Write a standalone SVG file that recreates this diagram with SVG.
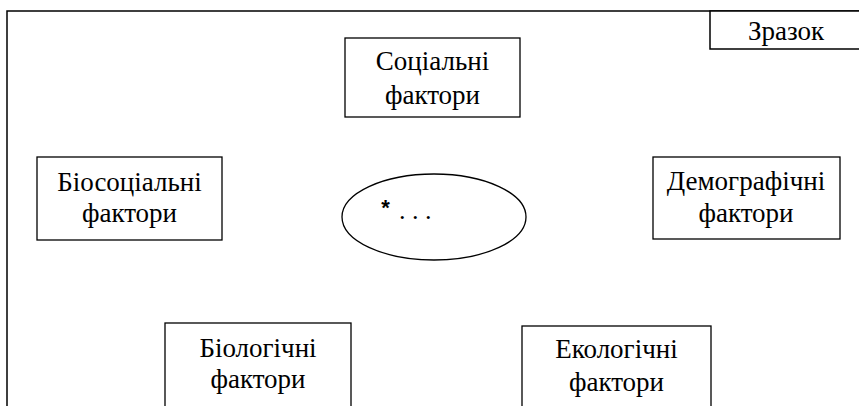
<svg xmlns="http://www.w3.org/2000/svg" width="859" height="406" viewBox="0 0 859 406">
<style>
.b{fill:#fff;stroke:#000;stroke-width:1.3}
.t{font-size:27px;fill:#000;text-anchor:middle}
</style>
<rect width="859" height="406" fill="#fff"/>
<g id="frame" fill="none" stroke="#000" stroke-width="1.5">
<polyline points="7,406 7,11 859,11"/>
</g>
<g font-family="Times New Roman, Liberation Serif, DejaVu Serif, serif">
<g id="sample">
<polyline points="859,11 710,11 710,49 859,49" fill="#fff" stroke="#000" stroke-width="1.5"/>
<text class="t" x="786" y="40">Зразок</text>
</g>
<g id="connectors"></g>
<g id="social">
<rect class="b" x="345" y="38" width="175" height="79"/>
<text class="t" x="432.5" y="70">Соціальні</text>
<text class="t" x="432.5" y="104">фактори</text>
</g>
<g id="biosocial">
<rect class="b" x="37" y="157" width="185" height="83"/>
<text class="t" x="129.5" y="191">Біосоціальні</text>
<text class="t" x="129.5" y="222">фактори</text>
</g>
<g id="demographic">
<rect class="b" x="653" y="157" width="187" height="82"/>
<text class="t" x="746" y="190">Демографічні</text>
<text class="t" x="746" y="222">фактори</text>
</g>
<g id="center">
<ellipse class="b" cx="434" cy="217" rx="92" ry="43"/>
<text x="385.5" y="215" font-family="Liberation Sans, Arial, sans-serif" font-size="22" font-weight="bold" text-anchor="middle">*</text>
<text x="399" y="219" font-size="26">. . .</text>
</g>
<g id="biological">
<rect class="b" x="165" y="323" width="186" height="90"/>
<text class="t" x="258" y="357">Біологічні</text>
<text class="t" x="258" y="388">фактори</text>
</g>
<g id="ecological">
<rect class="b" x="522" y="326" width="189" height="90"/>
<text class="t" x="616.5" y="358">Екологічні</text>
<text class="t" x="616.5" y="391">фактори</text>
</g>
</g>
</svg>
